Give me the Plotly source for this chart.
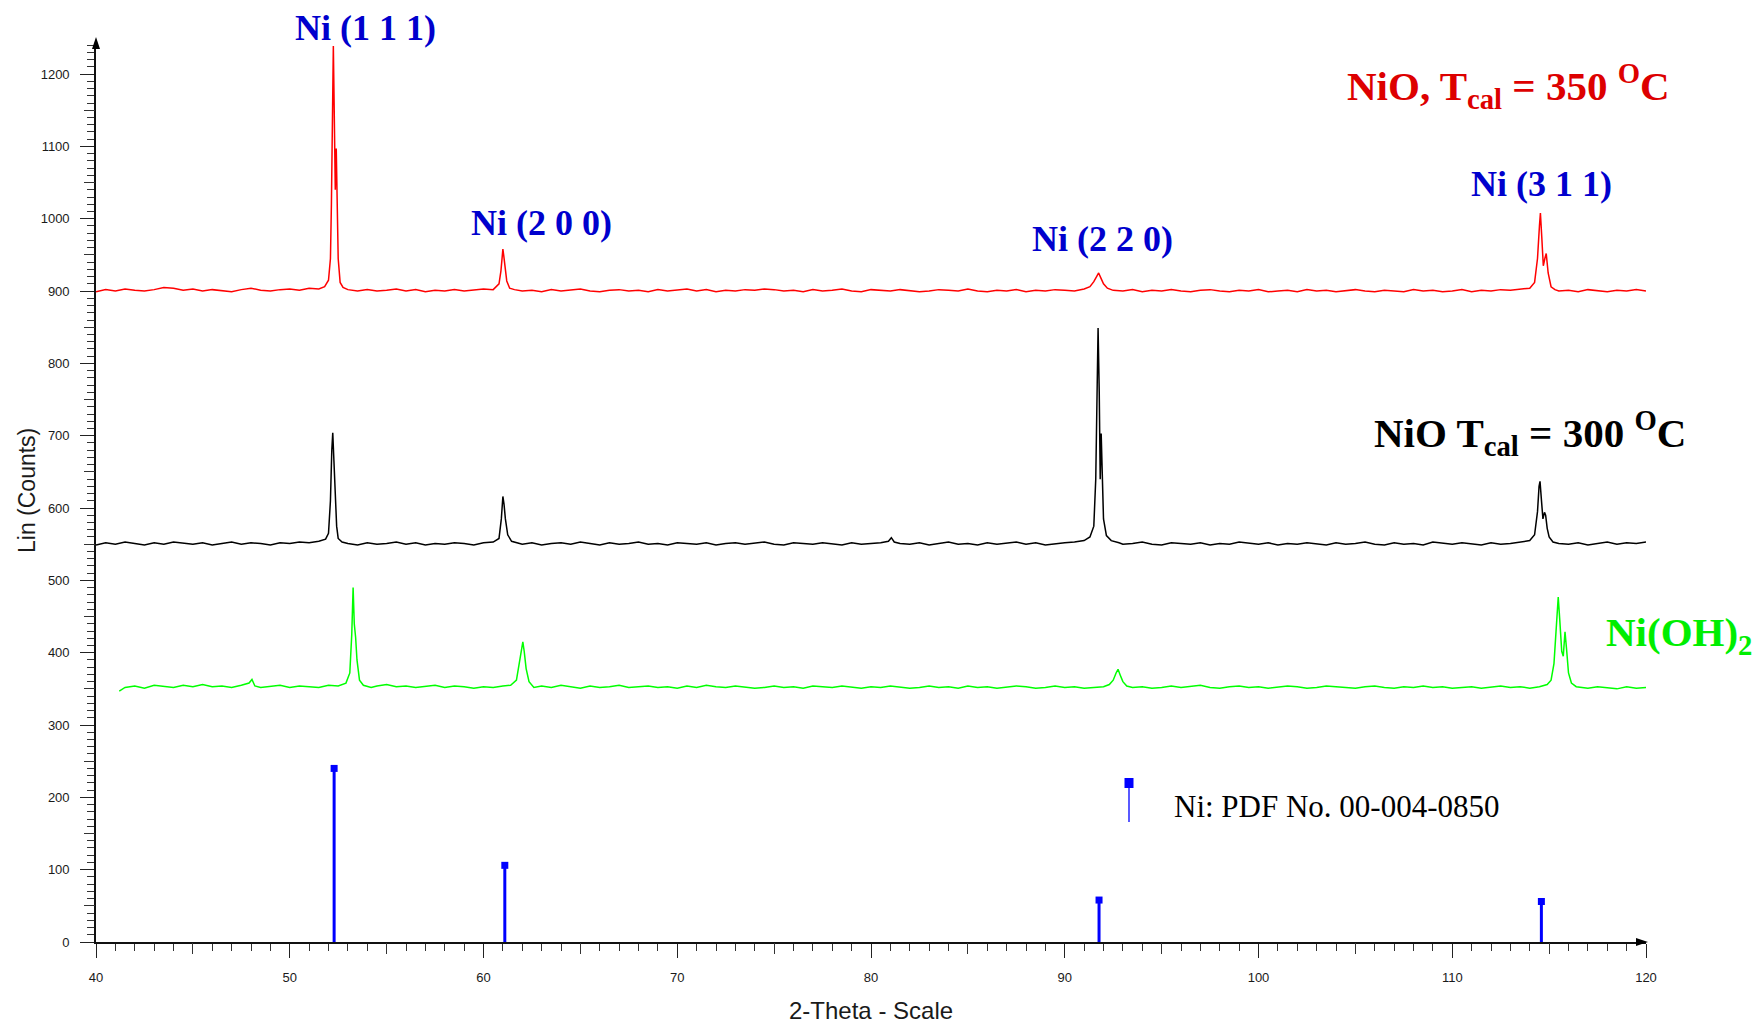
import plotly.graph_objects as go

# ---------------- data ----------------
red_x = [
    40.0, 40.5, 41.0, 41.5, 42.0, 42.5, 43.0, 43.5, 44.0, 44.5,
    45.0, 45.5, 46.0, 46.5, 47.0, 47.5, 48.0, 48.5, 49.0, 49.5,
    50.0, 50.5, 51.0, 51.5, 51.8, 52.0, 52.1, 52.15, 52.2, 52.25,
    52.3, 52.35, 52.4, 52.45, 52.5, 52.6, 52.75, 53.0, 53.5, 54.0,
    54.5, 55.0, 55.5, 56.0, 56.5, 57.0, 57.5, 58.0, 58.5, 59.0,
    59.5, 60.0, 60.5, 60.8, 60.9, 61.0, 61.05, 61.1, 61.2, 61.35,
    61.6, 62.0, 62.5, 63.0, 63.5, 64.0, 64.5, 65.0, 65.5, 66.0,
    66.5, 67.0, 67.5, 68.0, 68.5, 69.0, 69.5, 70.0, 70.5, 71.0,
    71.5, 72.0, 72.5, 73.0, 73.5, 74.0, 74.5, 75.0, 75.5, 76.0,
    76.5, 77.0, 77.5, 78.0, 78.5, 79.0, 79.5, 80.0, 80.5, 81.0,
    81.5, 82.0, 82.5, 83.0, 83.5, 84.0, 84.5, 85.0, 85.5, 86.0,
    86.5, 87.0, 87.5, 88.0, 88.5, 89.0, 89.5, 90.0, 90.5, 91.0,
    91.3, 91.5, 91.65, 91.75, 91.85, 92.0, 92.2, 92.5, 93.0, 93.5,
    94.0, 94.5, 95.0, 95.5, 96.0, 96.5, 97.0, 97.5, 98.0, 98.5,
    99.0, 99.5, 100.0, 100.5, 101.0, 101.5, 102.0, 102.5, 103.0, 103.5,
    104.0, 104.5, 105.0, 105.5, 106.0, 106.5, 107.0, 107.5, 108.0, 108.5,
    109.0, 109.5, 110.0, 110.5, 111.0, 111.5, 112.0, 112.5, 113.0, 113.5,
    114.0, 114.25, 114.4, 114.5, 114.55, 114.62, 114.7, 114.78, 114.85, 114.95,
    115.1, 115.3, 115.5, 116.0, 116.5, 117.0, 117.5, 118.0, 118.5, 119.0,
    119.5, 120.0,
]
red_y = [
    899, 902, 900, 903, 901, 900, 902, 905, 904, 901,
    903, 900, 902, 901, 899, 902, 904, 901, 900, 902,
    903, 901, 904, 903, 906, 915, 945, 1020, 1190, 1239,
    1140, 1040, 1097, 1030, 945, 912, 905, 902, 900, 902,
    900, 901, 903, 900, 902, 899, 901, 900, 902, 900,
    901, 903, 902, 910, 928, 958, 948, 935, 914, 904,
    902, 900, 901, 899, 902, 900, 901, 903, 900, 899,
    901, 902, 900, 901, 899, 902, 900, 901, 903, 900,
    902, 899, 901, 900, 902, 901, 903, 902, 900, 901,
    899, 902, 900, 901, 903, 900, 899, 902, 901, 900,
    902, 901, 899, 900, 902, 901, 900, 903, 900, 899,
    901, 900, 902, 899, 901, 900, 902, 901, 900, 903,
    906, 913, 921, 925, 919, 910, 904, 901, 900, 902,
    899, 901, 900, 902, 900, 899, 901, 902, 900, 899,
    901, 900, 902, 899, 900, 901, 899, 902, 900, 901,
    899, 900, 902, 900, 899, 901, 900, 899, 902, 900,
    901, 899, 900, 902, 899, 901, 900, 902, 901, 903,
    904, 912, 945, 990, 1008, 975, 935, 945, 952, 925,
    906, 902, 900, 901, 899, 902, 900, 899, 901, 900,
    902, 900,
]

black_x = [
    40.0, 40.5, 41.0, 41.5, 42.0, 42.5, 43.0, 43.5, 44.0, 44.5,
    45.0, 45.5, 46.0, 46.5, 47.0, 47.5, 48.0, 48.5, 49.0, 49.5,
    50.0, 50.5, 51.0, 51.5, 51.85, 52.0, 52.1, 52.17, 52.22, 52.28,
    52.35, 52.42, 52.5, 52.7, 53.0, 53.5, 54.0, 54.5, 55.0, 55.5,
    56.0, 56.5, 57.0, 57.5, 58.0, 58.5, 59.0, 59.5, 60.0, 60.5,
    60.8, 60.92, 61.0, 61.06, 61.13, 61.25, 61.45, 61.8, 62.0, 62.5,
    63.0, 63.5, 64.0, 64.5, 65.0, 65.5, 66.0, 66.5, 67.0, 67.5,
    68.0, 68.5, 69.0, 69.5, 70.0, 70.5, 71.0, 71.5, 72.0, 72.5,
    73.0, 73.5, 74.0, 74.5, 75.0, 75.5, 76.0, 76.5, 77.0, 77.5,
    78.0, 78.5, 79.0, 79.5, 80.0, 80.5, 80.9, 81.05, 81.2, 81.5,
    82.0, 82.5, 83.0, 83.5, 84.0, 84.5, 85.0, 85.5, 86.0, 86.5,
    87.0, 87.5, 88.0, 88.5, 89.0, 89.5, 90.0, 90.5, 91.0, 91.3,
    91.5, 91.6, 91.67, 91.72, 91.78, 91.83, 91.88, 91.93, 92.0, 92.15,
    92.4, 92.8, 93.0, 93.5, 94.0, 94.5, 95.0, 95.5, 96.0, 96.5,
    97.0, 97.5, 98.0, 98.5, 99.0, 99.5, 100.0, 100.5, 101.0, 101.5,
    102.0, 102.5, 103.0, 103.5, 104.0, 104.5, 105.0, 105.5, 106.0, 106.5,
    107.0, 107.5, 108.0, 108.5, 109.0, 109.5, 110.0, 110.5, 111.0, 111.5,
    112.0, 112.5, 113.0, 113.5, 114.0, 114.25, 114.4, 114.48, 114.53, 114.6,
    114.68, 114.76, 114.82, 114.9, 115.0, 115.2, 115.5, 116.0, 116.5, 117.0,
    117.5, 118.0, 118.5, 119.0, 119.5, 120.0,
]
black_y = [
    549, 552, 550, 553, 551, 549, 552, 550, 553, 551,
    550, 552, 549, 551, 553, 550, 552, 551, 549, 552,
    551, 553, 552, 554, 557, 565, 610, 680, 704, 665,
    615, 575, 558, 553, 551, 549, 552, 550, 551, 553,
    550, 552, 549, 551, 550, 552, 551, 549, 552, 553,
    558, 585, 616, 605, 585, 563, 554, 551, 550, 552,
    549, 551, 552, 550, 553, 551, 549, 552, 550, 551,
    553, 550, 551, 549, 552, 551, 550, 552, 549, 551,
    552, 550, 551, 553, 550, 549, 552, 551, 550, 552,
    551, 549, 552, 550, 551, 552, 554, 559, 553, 551,
    550, 552, 549, 551, 553, 550, 551, 549, 552, 550,
    551, 553, 550, 552, 549, 551, 552, 553, 555, 560,
    575, 640, 770, 849, 760, 640, 703, 640, 585, 562,
    555, 552, 550, 551, 553, 550, 549, 552, 551, 550,
    552, 549, 551, 550, 553, 551, 550, 552, 549, 551,
    550, 552, 551, 549, 552, 550, 551, 553, 550, 549,
    552, 550, 551, 549, 553, 551, 550, 552, 551, 549,
    552, 550, 551, 553, 555, 563, 595, 630, 637, 612,
    585, 594, 590, 572, 560, 553, 551, 550, 552, 549,
    551, 553, 550, 552, 551, 553,
]

green_x = [
    41.2, 41.5, 42.0, 42.5, 43.0, 43.5, 44.0, 44.5, 45.0, 45.5,
    46.0, 46.5, 47.0, 47.5, 47.9, 48.05, 48.2, 48.5, 49.0, 49.5,
    50.0, 50.5, 51.0, 51.5, 52.0, 52.5, 52.9, 53.1, 53.2, 53.27,
    53.33, 53.4, 53.47, 53.6, 53.8, 54.2, 54.5, 55.0, 55.5, 56.0,
    56.5, 57.0, 57.5, 58.0, 58.5, 59.0, 59.5, 60.0, 60.5, 61.0,
    61.4, 61.7, 61.85, 61.95, 62.03, 62.1, 62.2, 62.35, 62.6, 63.0,
    63.5, 64.0, 64.5, 65.0, 65.5, 66.0, 66.5, 67.0, 67.5, 68.0,
    68.5, 69.0, 69.5, 70.0, 70.5, 71.0, 71.5, 72.0, 72.5, 73.0,
    73.5, 74.0, 74.5, 75.0, 75.5, 76.0, 76.5, 77.0, 77.5, 78.0,
    78.5, 79.0, 79.5, 80.0, 80.5, 81.0, 81.5, 82.0, 82.5, 83.0,
    83.5, 84.0, 84.5, 85.0, 85.5, 86.0, 86.5, 87.0, 87.5, 88.0,
    88.5, 89.0, 89.5, 90.0, 90.5, 91.0, 91.5, 92.0, 92.3, 92.5,
    92.65, 92.75, 92.85, 93.0, 93.2, 93.5, 94.0, 94.5, 95.0, 95.5,
    96.0, 96.5, 97.0, 97.5, 98.0, 98.5, 99.0, 99.5, 100.0, 100.5,
    101.0, 101.5, 102.0, 102.5, 103.0, 103.5, 104.0, 104.5, 105.0, 105.5,
    106.0, 106.5, 107.0, 107.5, 108.0, 108.5, 109.0, 109.5, 110.0, 110.5,
    111.0, 111.5, 112.0, 112.5, 113.0, 113.5, 114.0, 114.5, 114.9, 115.1,
    115.25, 115.38, 115.47, 115.55, 115.65, 115.73, 115.82, 115.9, 116.0, 116.15,
    116.4, 116.7, 117.0, 117.5, 118.0, 118.5, 119.0, 119.5, 120.0,
]
green_y = [
    347, 352, 354, 351, 355, 353, 352, 355, 353, 356,
    353, 354, 352, 355, 358, 363, 354, 352, 353, 355,
    352, 354, 353, 352, 355, 354, 358, 372, 425, 490,
    440, 421, 390, 362, 355, 352, 354, 356, 353, 354,
    352, 353, 355, 352, 354, 353, 351, 353, 352, 354,
    355, 362, 385, 405, 415, 402, 378, 360, 352, 354,
    352, 355, 353, 351, 354, 352, 353, 355, 352, 353,
    354, 352, 353, 351, 354, 352, 355, 353, 352, 354,
    353, 351, 352, 354, 352, 353, 351, 354, 353, 352,
    354, 352, 351, 353, 352, 354, 353, 351, 352, 354,
    352, 353, 351, 354, 352, 353, 351, 352, 354, 353,
    351, 352, 354, 352, 353, 351, 352, 353, 356, 362,
    372, 377, 370, 360, 354, 352, 353, 351, 352, 354,
    352, 353, 355, 352, 351, 353, 354, 352, 353, 351,
    352, 354, 353, 351, 352, 354, 353, 352, 351, 353,
    354, 352, 351, 353, 352, 354, 352, 353, 351, 352,
    353, 351, 352, 354, 352, 353, 351, 353, 356, 362,
    385, 440, 477, 445, 402, 395, 429, 405, 372, 358,
    353, 352, 351, 353, 352, 350, 353, 351, 352,
]

# Ni reference pattern (PDF 00-004-0850) sticks
stick_x = [52.29, 61.1, 91.77, 114.6]
stick_h = [240, 106, 58, 56]

x_tick_vals = [40, 50, 60, 70, 80, 90, 100, 110, 120]
x_tick_text = ["40", "50", "60", "70", "80", "90", "100", "110", "120"]
x_mid_vals = [45, 55, 65, 75, 85, 95, 105, 115]
y_tick_vals = [0, 100, 200, 300, 400, 500, 600, 700, 800, 900, 1000, 1100, 1200]
y_mid_vals = [50, 150, 250, 350, 450, 550, 650, 750, 850, 950, 1050, 1150]

# ---------------- layout geometry (pixels) ----------------
W, H = 1762, 1024
L, R, T, B = 96, 1646, 43, 942


def px(x):
    return (x - L) / (R - L)


def py(y):
    return (B - y) / (B - T)


SERIF = "Liberation Serif, Times New Roman, serif"
SANS = "Liberation Sans, Arial, Helvetica, sans-serif"

fig = go.Figure()
fig.add_trace(go.Scatter(x=red_x, y=red_y, mode="lines",
                         line=dict(color="#FF0000", width=1.5), hoverinfo="skip"))
fig.add_trace(go.Scatter(x=black_x, y=black_y, mode="lines",
                         line=dict(color="#000000", width=1.5), hoverinfo="skip"))
fig.add_trace(go.Scatter(x=green_x, y=green_y, mode="lines",
                         line=dict(color="#00FF00", width=1.5), hoverinfo="skip"))

sx, sy = [], []
for xv, hv in zip(stick_x, stick_h):
    sx += [xv, xv, None]
    sy += [0, hv, None]
fig.add_trace(go.Scatter(x=sx, y=sy, mode="lines",
                         line=dict(color="#0000FF", width=3), hoverinfo="skip"))
fig.add_trace(go.Scatter(x=stick_x, y=stick_h, mode="markers",
                         marker=dict(symbol="square", size=7, color="#0000FF"),
                         hoverinfo="skip"))
# helper trace for the overlay axes carrying the medium ticks
fig.add_trace(go.Scatter(x=[None], y=[None], xaxis="x2", yaxis="y2",
                         mode="markers", hoverinfo="skip"))

yr = [0, 1243]
tick_font = dict(family=SANS, size=13, color="#1a1a1a")

fig.update_layout(
    width=W, height=H,
    margin=dict(l=L, r=W - R, t=T, b=H - B, pad=0),
    paper_bgcolor="white", plot_bgcolor="white",
    showlegend=False,
    xaxis=dict(range=[40, 120], tickvals=x_tick_vals, ticktext=x_tick_text,
               ticks="outside", ticklen=14, tickwidth=1.2, tickcolor="#222",
               showline=True, linecolor="#111", linewidth=1.6,
               showgrid=False, zeroline=False, tickfont=tick_font,
               ticklabelstandoff=9,
               minor=dict(dtick=1, tick0=40, ticks="outside", ticklen=7,
                          tickwidth=1, tickcolor="#333", showgrid=False)),
    yaxis=dict(range=yr, tickvals=y_tick_vals,
               ticks="outside", ticklen=14, tickwidth=1.2, tickcolor="#222",
               showline=True, linecolor="#111", linewidth=1.6,
               showgrid=False, zeroline=False, tickfont=tick_font,
               ticklabelstandoff=8,
               minor=dict(dtick=10, tick0=0, ticks="outside", ticklen=7,
                          tickwidth=1, tickcolor="#333", showgrid=False)),
    xaxis2=dict(range=[40, 120], overlaying="x", anchor="y", side="bottom",
                tickvals=x_mid_vals, ticks="outside", ticklen=11, tickwidth=1.1,
                tickcolor="#333", showticklabels=False, showline=False,
                showgrid=False, zeroline=False),
    yaxis2=dict(range=yr, overlaying="y", anchor="x", side="left",
                tickvals=y_mid_vals, ticks="outside", ticklen=11, tickwidth=1.1,
                tickcolor="#333", showticklabels=False, showline=False,
                showgrid=False, zeroline=False),
)

blue = "#0000CD"
labels = [
    ("<b>Ni (1 1 1)</b>", 365, 28, 36, blue),
    ("<b>Ni (2 0 0)</b>", 541, 223, 36, blue),
    ("<b>Ni (2 2 0)</b>", 1102, 239, 36, blue),
    ("<b>Ni (3 1 1)</b>", 1541, 184, 36, blue),
    ("<b>NiO, T<sub>cal</sub> = 350 <sup>O</sup>C</b>", 1508, 86, 41, "#DD0000"),
    ("<b>NiO T<sub>cal</sub> = 300 <sup>O</sup>C</b>", 1530, 433, 41, "#000000"),
    ("<b>Ni(OH)<sub>2</sub></b>", 1679, 635, 41, "#00EE00"),
]
annotations = []
for text, cx, cy, size, col in labels:
    annotations.append(dict(text=text, x=px(cx), y=py(cy), xref="paper", yref="paper",
                            xanchor="center", yanchor="middle", showarrow=False,
                            font=dict(family=SERIF, size=size, color=col)))

# legend text for the reference pattern
annotations.append(dict(text="Ni: PDF No. 00-004-0850", x=px(1172), y=py(806),
                        xref="paper", yref="paper", xanchor="left", yanchor="middle",
                        showarrow=False, font=dict(family=SERIF, size=31, color="#000")))
# axis titles
annotations.append(dict(text="2-Theta - Scale", x=px(871), y=py(1010), xref="paper",
                        yref="paper", xanchor="center", yanchor="middle", showarrow=False,
                        font=dict(family=SANS, size=24, color="#1a1a1a")))
annotations.append(dict(text="Lin (Counts)", x=px(27), y=py(491), xref="paper",
                        yref="paper", xanchor="center", yanchor="middle", showarrow=False,
                        textangle=-90, font=dict(family=SANS, size=23, color="#1a1a1a")))
fig.update_layout(annotations=annotations)

# axis arrowheads (filled triangles)
fig.add_shape(type="path", xref="paper", yref="paper",
              path="M {} {} L {} {} L {} {} Z".format(px(92), py(49), px(96), py(37), px(100), py(49)),
              fillcolor="#000", line=dict(width=0))
fig.add_shape(type="path", xref="paper", yref="paper",
              path="M {} {} L {} {} L {} {} Z".format(px(1636), py(938), px(1648), py(942), px(1636), py(946)),
              fillcolor="#000", line=dict(width=0))

# legend glyph: stick with square cap
fig.add_shape(type="line", xref="paper", yref="paper",
              x0=px(1129), x1=px(1129), y0=py(786), y1=py(822),
              line=dict(color="#0000FF", width=1.3))
fig.add_shape(type="rect", xref="paper", yref="paper",
              x0=px(1124.5), x1=px(1133.5), y0=py(778), y1=py(788),
              line=dict(width=0), fillcolor="#0000FF")

fig.write_html("out.html", config={"displayModeBar": False},
               post_script="document.body.style.margin='0px';")
